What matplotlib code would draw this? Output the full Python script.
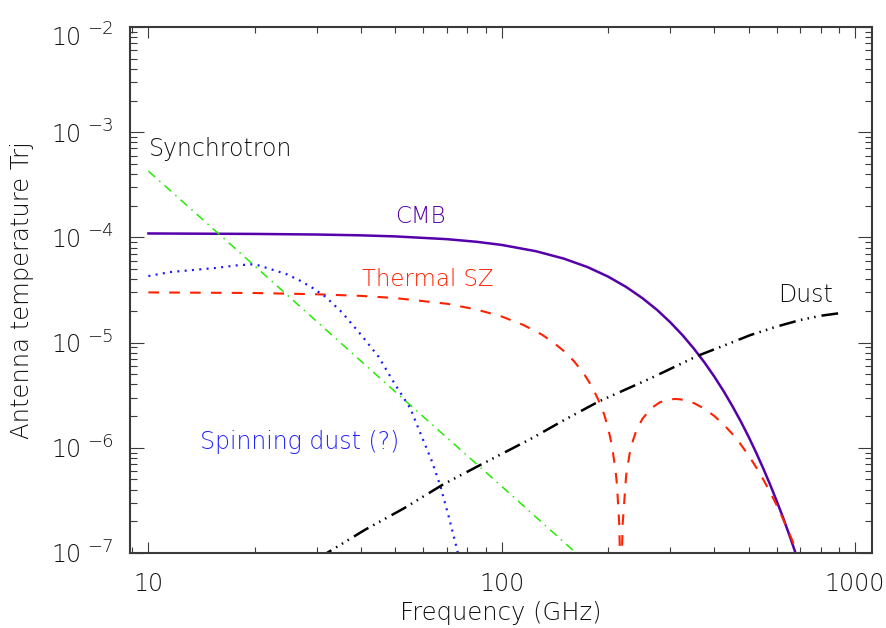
import numpy as np
import matplotlib.pyplot as plt
from matplotlib import ticker

# values (frequency in GHz, antenna temperature)
cmb_freq = [10, 20, 30, 40, 50, 70, 85, 100, 125, 150, 175, 200, 225, 250, 275, 300, 325,
            350, 375, 400, 425, 450, 475, 500, 525, 550, 575, 600, 625, 650, 680]
cmb_temp = [1.09e-4, 1.079e-4, 1.065e-4, 1.046e-4, 1.022e-4, 9.62e-5, 9.08e-5, 8.48e-5,
            7.39e-5, 6.28e-5, 5.22e-5, 4.24e-5, 3.38e-5, 2.65e-5, 2.05e-5, 1.56e-5, 1.175e-5,
            8.75e-6, 6.46e-6, 4.73e-6, 3.44e-6, 2.48e-6, 1.78e-6, 1.27e-6, 8.99e-7, 6.35e-7,
            4.47e-7, 3.13e-7, 2.19e-7, 1.52e-7, 9.8e-8]

sz_freq = [10, 20, 30, 40, 50, 70, 85, 100, 115, 130, 140, 150, 160, 170, 180, 190, 195, 200,
           205, 210, 212, 215, 216.5, 217.5, 218.5, 220, 225, 230, 235, 240, 250, 265, 280,
           290, 300, 310, 320, 335, 350, 375, 400, 425, 450, 475, 500, 525, 550, 575, 600,
           625, 650, 680]
sz_temp = [3.00e-5, 2.96e-5, 2.88e-5, 2.78e-5, 2.65e-5, 2.34e-5, 2.06e-5, 1.77e-5, 1.474e-5,
           1.19e-5, 1.003e-5, 8.3e-6, 6.68e-6, 5.19e-6, 3.83e-6, 2.62e-6, 2.07e-6, 1.55e-6,
           1.06e-6, 6.1e-7, 4.4e-7, 1.94e-7, 7.5e-8, 1e-9, 8.0e-8, 1.91e-7, 5.45e-7, 8.68e-7,
           1.16e-6, 1.43e-6, 1.88e-6, 2.38e-6, 2.70e-6, 2.82e-6, 2.89e-6, 2.91e-6, 2.89e-6,
           2.80e-6, 2.66e-6, 2.35e-6, 2.00e-6, 1.66e-6, 1.35e-6, 1.075e-6, 8.44e-7, 6.53e-7,
           5.0e-7, 3.79e-7, 2.85e-7, 2.12e-7, 1.57e-7, 1.09e-7]

sync_freq = [10, 20, 50, 100, 170]
sync_temp = [4.27e-4, 5.35e-5, 3.4e-6, 4.3e-7, 8.7e-8]

spin_freq = [10, 11.5, 13.3, 15.4, 17.8, 19.6, 20.5, 22.5, 24.7, 26.9, 29.2, 31.7, 35.3,
             40.2, 44.8, 49.7, 55.1, 59.1, 63.5, 67.1, 70.8, 74.4, 76]
spin_temp = [4.29e-5, 4.68e-5, 4.89e-5, 5.11e-5, 5.42e-5, 5.54e-5, 5.42e-5, 4.92e-5, 4.45e-5,
             3.87e-5, 3.30e-5, 2.73e-5, 1.94e-5, 1.16e-5, 7.35e-6, 4.1e-6, 2.38e-6, 1.33e-6,
             7.4e-7, 4.29e-7, 2.22e-7, 1.15e-7, 8.5e-8]

dust_freq = [30, 32, 41, 53, 68, 85, 120, 150, 188, 264, 358, 430, 506, 600, 700, 800, 900]
dust_temp = [8.8e-8, 1.0e-7, 1.66e-7, 2.67e-7, 4.45e-7, 6.6e-7, 1.2e-6, 1.83e-6, 2.75e-6,
             4.58e-6, 7.47e-6, 9.5e-6, 1.18e-5, 1.42e-5, 1.64e-5, 1.80e-5, 1.90e-5]

xticks = [10, 100, 1000]
yticks = [1e-7, 1e-6, 1e-5, 1e-4, 1e-3, 1e-2]

font = dict(family='DejaVu Sans', fontweight=200)
axcol = '#3a3a3a'
txtcol = '#111111'

fig = plt.figure(figsize=(8.87, 6.28), dpi=100)
ax = fig.add_axes([130 / 887, 75 / 628, 742 / 887, 526 / 628])

ax.plot(cmb_freq, cmb_temp, color='#5500aa', lw=1.8, solid_joinstyle='round')
ax.plot(sz_freq, sz_temp, color='#ff2200', lw=1.5, ls=(0, (5.1, 4.9)))
ax.plot(sync_freq, sync_temp, color='#22ee00', lw=1.1, ls=(0, (5.9, 3.6, 1.0, 3.6)))
ax.plot(spin_freq, spin_temp, color='#1a1aff', lw=1.6, ls=(0, (0.9, 2.4)))
ax.plot(dust_freq, dust_temp, color='black', lw=1.8,
        ls=(0, (6.7, 2.2, 0.6, 2.1, 0.6, 2.1, 0.6, 2.4)))

ax.set_xscale('log')
ax.set_yscale('log')
ax.set_xlim(8.87, 1117)
ax.set_ylim(1e-7, 1e-2)

for s in ax.spines.values():
    s.set_linewidth(1.5)
    s.set_color(axcol)

ax.set_xticks(xticks)
ax.xaxis.set_major_formatter(ticker.FixedFormatter([str(t) for t in xticks]))
ax.xaxis.set_minor_locator(ticker.LogLocator(base=10, subs=np.arange(2, 10)))
ax.xaxis.set_minor_formatter(ticker.NullFormatter())
ax.set_yticks(yticks)
ax.yaxis.set_major_formatter(ticker.NullFormatter())
ax.yaxis.set_minor_locator(ticker.LogLocator(base=10, subs=np.arange(2, 10), numticks=20))
ax.yaxis.set_minor_formatter(ticker.NullFormatter())

ax.tick_params(axis='both', which='both', direction='in', top=True, right=True,
               color=axcol, width=0.8)
ax.tick_params(axis='x', which='major', length=8, pad=13.5, labelsize=17,
               labelcolor=txtcol)
ax.tick_params(axis='x', which='minor', length=4.3)
ax.tick_params(axis='y', which='major', length=10)
ax.tick_params(axis='y', which='minor', length=5)
for lab in ax.get_xticklabels():
    lab.set_fontweight(200)

# IDL-style y labels: "10" with raised exponent
ytr = ax.get_yaxis_transform()
for v in yticks:
    e = int(round(np.log10(v)))
    dy = -6 if v == yticks[-1] else 0
    ax.annotate('10', xy=(0, v), xycoords=ytr, xytext=(-34.8, -6.8 + dy),
                textcoords='offset points', ha='right', va='baseline',
                fontsize=17, color=txtcol, **font)
    ax.annotate('\u2212%d' % -e, xy=(0, v), xycoords=ytr, xytext=(-31, 0.7 + dy),
                textcoords='offset points', ha='left', va='baseline',
                fontsize=13, color=txtcol, **font)

ax.set_xlabel('Frequency (GHz)', fontsize=17.5, color=txtcol, **font)
ax.xaxis.set_label_coords(0.5, -0.114)
ax.xaxis.label.set_va('center')
ax.set_ylabel('Antenna temperature Trj', fontsize=17.5, color=txtcol, **font)
ax.yaxis.set_label_coords(-0.1456, 0.5)
ax.yaxis.label.set_va('center')

ax.text(10, 5.92e-4, 'Synchrotron', fontsize=17, color=txtcol, va='baseline', **font)
ax.text(50, 1.38e-4, 'CMB', fontsize=16.5, color='#5500aa', va='baseline', **font)
ax.text(40.2, 3.45e-5, 'Thermal SZ', fontsize=16.5, color='#ff2200', va='baseline', **font)
ax.text(605, 2.45e-5, 'Dust', fontsize=17, color=txtcol, va='baseline', **font)
ax.text(14.0, 9.7e-7, 'Spinning dust (?)', fontsize=17, color='#2222ff', va='baseline', **font)

fig.savefig('out.png', dpi=100)
